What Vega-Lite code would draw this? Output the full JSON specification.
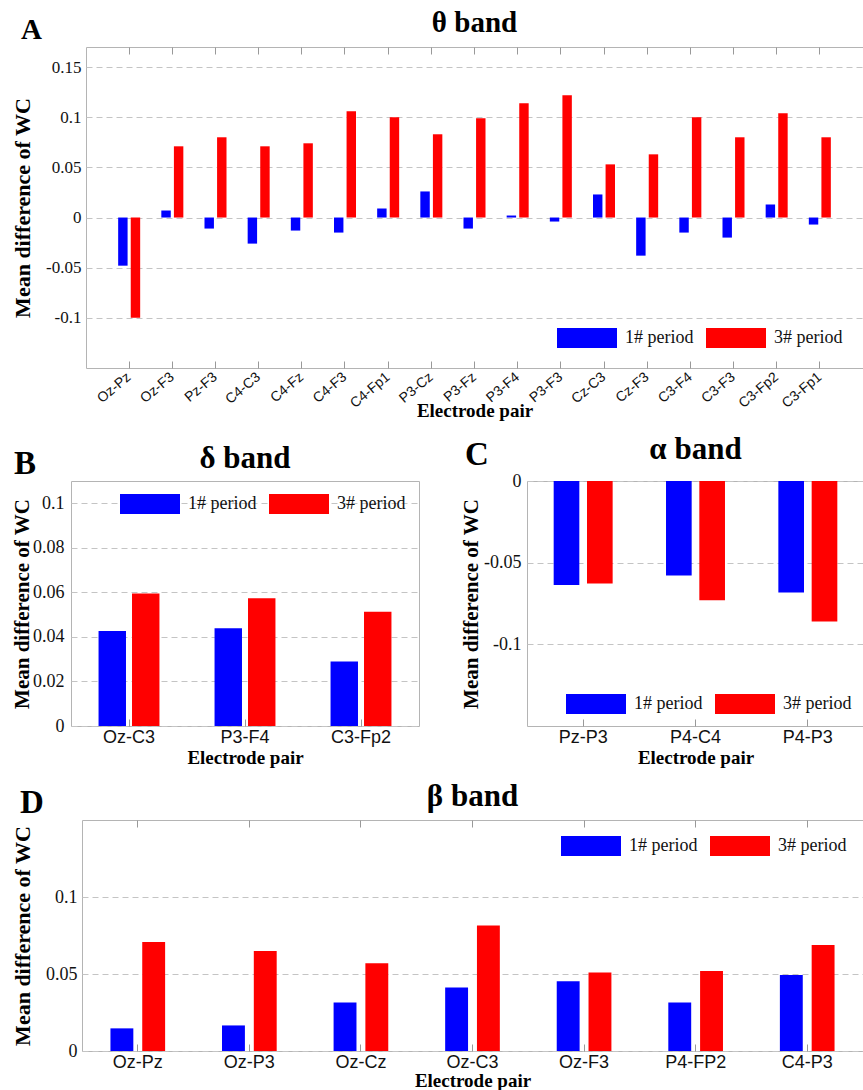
{
  "$schema": "https://vega.github.io/schema/vega-lite/v6.json",
  "background": "white",
  "padding": {"left": 4, "top": 8, "right": 0, "bottom": 0},
  "datasets": {
    "theta": [
      {"pair": "Oz-Pz", "period": "1# period", "value": -0.048}, {"pair": "Oz-Pz", "period": "3# period", "value": -0.100},
      {"pair": "Oz-F3", "period": "1# period", "value": 0.007}, {"pair": "Oz-F3", "period": "3# period", "value": 0.071},
      {"pair": "Pz-F3", "period": "1# period", "value": -0.011}, {"pair": "Pz-F3", "period": "3# period", "value": 0.080},
      {"pair": "C4-C3", "period": "1# period", "value": -0.026}, {"pair": "C4-C3", "period": "3# period", "value": 0.071},
      {"pair": "C4-Fz", "period": "1# period", "value": -0.013}, {"pair": "C4-Fz", "period": "3# period", "value": 0.074},
      {"pair": "C4-F3", "period": "1# period", "value": -0.015}, {"pair": "C4-F3", "period": "3# period", "value": 0.106},
      {"pair": "C4-Fp1", "period": "1# period", "value": 0.009}, {"pair": "C4-Fp1", "period": "3# period", "value": 0.100},
      {"pair": "P3-Cz", "period": "1# period", "value": 0.026}, {"pair": "P3-Cz", "period": "3# period", "value": 0.083},
      {"pair": "P3-Fz", "period": "1# period", "value": -0.011}, {"pair": "P3-Fz", "period": "3# period", "value": 0.099},
      {"pair": "P3-F4", "period": "1# period", "value": 0.002}, {"pair": "P3-F4", "period": "3# period", "value": 0.114},
      {"pair": "P3-F3", "period": "1# period", "value": -0.004}, {"pair": "P3-F3", "period": "3# period", "value": 0.122},
      {"pair": "Cz-C3", "period": "1# period", "value": 0.023}, {"pair": "Cz-C3", "period": "3# period", "value": 0.053},
      {"pair": "Cz-F3", "period": "1# period", "value": -0.038}, {"pair": "Cz-F3", "period": "3# period", "value": 0.063},
      {"pair": "C3-F4", "period": "1# period", "value": -0.015}, {"pair": "C3-F4", "period": "3# period", "value": 0.100},
      {"pair": "C3-F3", "period": "1# period", "value": -0.020}, {"pair": "C3-F3", "period": "3# period", "value": 0.080},
      {"pair": "C3-Fp2", "period": "1# period", "value": 0.013}, {"pair": "C3-Fp2", "period": "3# period", "value": 0.104},
      {"pair": "C3-Fp1", "period": "1# period", "value": -0.007}, {"pair": "C3-Fp1", "period": "3# period", "value": 0.080}
    ],
    "delta": [
      {"pair": "Oz-C3", "period": "1# period", "value": 0.0427}, {"pair": "Oz-C3", "period": "3# period", "value": 0.0595},
      {"pair": "P3-F4", "period": "1# period", "value": 0.0439}, {"pair": "P3-F4", "period": "3# period", "value": 0.0574},
      {"pair": "C3-Fp2", "period": "1# period", "value": 0.0290}, {"pair": "C3-Fp2", "period": "3# period", "value": 0.0513}
    ],
    "alpha": [
      {"pair": "Pz-P3", "period": "1# period", "value": -0.0636}, {"pair": "Pz-P3", "period": "3# period", "value": -0.0628},
      {"pair": "P4-C4", "period": "1# period", "value": -0.0579}, {"pair": "P4-C4", "period": "3# period", "value": -0.0730},
      {"pair": "P4-P3", "period": "1# period", "value": -0.0683}, {"pair": "P4-P3", "period": "3# period", "value": -0.0860}
    ],
    "beta": [
      {"pair": "Oz-Pz", "period": "1# period", "value": 0.0147}, {"pair": "Oz-Pz", "period": "3# period", "value": 0.0707},
      {"pair": "Oz-P3", "period": "1# period", "value": 0.0166}, {"pair": "Oz-P3", "period": "3# period", "value": 0.0649},
      {"pair": "Oz-Cz", "period": "1# period", "value": 0.0315}, {"pair": "Oz-Cz", "period": "3# period", "value": 0.0569},
      {"pair": "Oz-C3", "period": "1# period", "value": 0.0412}, {"pair": "Oz-C3", "period": "3# period", "value": 0.0815},
      {"pair": "Oz-F3", "period": "1# period", "value": 0.0453}, {"pair": "Oz-F3", "period": "3# period", "value": 0.0509},
      {"pair": "P4-FP2", "period": "1# period", "value": 0.0315}, {"pair": "P4-FP2", "period": "3# period", "value": 0.0520},
      {"pair": "C4-P3", "period": "1# period", "value": 0.0494}, {"pair": "C4-P3", "period": "3# period", "value": 0.0688}
    ],
    "blank": [{"k": 0}]
  },
  "config": {
    "font": "Liberation Serif",
    "view": {"stroke": "#b4b4b4", "strokeWidth": 1},
    "axis": {"domain": false, "labelColor": "#111", "titleColor": "#000", "titleFont": "Liberation Serif", "titleFontWeight": "bold", "titleFontSize": 19, "gridColor": "#c4c4c4", "gridDash": [6, 4], "tickColor": "#999999"},
    "axisY": {"ticks": false, "labelFont": "Liberation Serif", "labelFontSize": 18, "labelPadding": 6, "titleFontSize": 21},
    "axisX": {"grid": false, "labelFont": "Liberation Sans", "labelFontSize": 18, "labelAngle": 0, "tickSize": -7, "labelPadding": 10, "titlePadding": 2},
    "title": {"font": "Liberation Serif", "fontWeight": "bold", "color": "#000", "baseline": "alphabetic"},
    "legend": {"direction": "horizontal", "title": null, "symbolType": "M-1,-1H5V1H-1Z", "symbolSize": 400, "symbolStrokeWidth": 0, "symbolOpacity": 1, "labelFont": "Liberation Serif", "labelFontSize": 18, "labelColor": "#111", "labelOffset": 48, "columnPadding": 12, "padding": 0}
  },
  "columns": 1,
  "spacing": 12,
  "resolve": {"scale": {"color": "independent", "xOffset": "independent"}, "legend": {"color": "independent"}},
  "concat": [
    {
      "columns": 2,
      "align": "each",
      "spacing": 0,
      "resolve": {"scale": {"color": "independent", "xOffset": "independent"}, "legend": {"color": "independent"}},
      "concat": [
        {"data": {"name": "blank"}, "width": 1, "height": 1, "view": {"stroke": null}, "mark": {"type": "point", "opacity": 0}},
        {
          "title": {"text": "A", "anchor": "start", "frame": "bounds", "orient": "top", "fontSize": 29, "offset": 0, "dx": 10, "dy": 37},
          "resolve": {"scale": {"color": "independent", "xOffset": "independent"}, "legend": {"color": "independent"}},
          "vconcat": [
            {
              "data": {"name": "theta"},
              "width": 777,
              "height": 321,
              "title": {"text": "θ band", "fontSize": 29, "offset": 9, "anchor": "middle"},
              "resolve": {"axis": {"x": "independent"}},
              "layer": [
                {
                  "mark": {"type": "bar"},
                  "encoding": {
                    "x": {"field": "pair", "type": "nominal", "sort": null, "title": "Electrode pair",
                      "scale": {"paddingInner": 0.49, "paddingOuter": 0.745},
                      "axis": {"labelAngle": -40, "labelFontSize": 14, "labelAlign": "right", "labelBaseline": "middle", "labelPadding": 14, "titlePadding": -9}},
                    "xOffset": {"field": "period", "type": "nominal", "scale": {"paddingInner": 0.25}},
                    "y": {"field": "value", "type": "quantitative", "title": "Mean difference of WC",
                      "scale": {"domain": [-0.15, 0.17], "nice": false, "zero": false},
                      "axis": {"values": [-0.1, -0.05, 0, 0.05, 0.1, 0.15], "labelExpr": "datum.value + ''", "labelFontSize": 17, "labelPadding": 5, "titleFontSize": 22, "titlePadding": 11}},
                    "color": {"field": "period", "type": "nominal",
                      "scale": {"domain": ["1# period", "3# period"], "range": ["#0000ff", "#ff0000"]},
                      "legend": {"orient": "bottom-right", "offset": 20, "labelFont": "Liberation Serif"}}
                  }
                },
                {
                  "mark": {"type": "bar", "opacity": 0},
                  "encoding": {
                    "x": {"field": "pair", "type": "nominal", "sort": null,
                      "axis": {"orient": "top", "labels": false, "title": null, "tickSize": -7, "domain": false, "grid": false, "minExtent": 0, "maxExtent": 0}}
                  }
                }
              ]
            }
          ]
        }
      ]
    },
    {
      "columns": 1,
      "spacing": 12,
      "resolve": {"scale": {"color": "independent", "xOffset": "independent"}, "legend": {"color": "independent"}},
      "concat": [
        {
          "columns": 2,
          "align": "each",
          "spacing": 0,
          "resolve": {"scale": {"color": "independent", "xOffset": "independent"}, "legend": {"color": "independent"}},
          "concat": [
            {"data": {"name": "blank"}, "width": 1, "height": 1, "view": {"stroke": null}, "mark": {"type": "point", "opacity": 0}},
            {
              "spacing": 40,
              "resolve": {"scale": {"color": "independent", "xOffset": "independent"}, "legend": {"color": "independent"}},
              "hconcat": [
                {
                  "title": {"text": "B", "anchor": "start", "frame": "bounds", "orient": "top", "fontSize": 33, "offset": 0, "dx": 3, "dy": 38},
                  "resolve": {"scale": {"color": "independent", "xOffset": "independent"}, "legend": {"color": "independent"}},
                  "vconcat": [
                    {
                      "data": {"name": "delta"},
                      "width": 348,
                      "height": 245,
                      "title": {"text": "δ band", "fontSize": 31, "offset": 6, "anchor": "middle"},
                      "mark": {"type": "bar"},
                      "encoding": {
                        "x": {"field": "pair", "type": "nominal", "sort": null, "title": "Electrode pair",
                          "scale": {"paddingInner": 0.475, "paddingOuter": 0.2375},
                          "axis": {"labelPadding": 9}},
                        "xOffset": {"field": "period", "type": "nominal", "scale": {"paddingInner": 0.18}},
                        "y": {"field": "value", "type": "quantitative", "title": "Mean difference of WC",
                          "scale": {"domain": [0, 0.11], "nice": false},
                          "axis": {"values": [0, 0.02, 0.04, 0.06, 0.08, 0.1], "labelExpr": "datum.value + ''", "labelPadding": 7, "titlePadding": 0}},
                        "color": {"field": "period", "type": "nominal",
                          "scale": {"domain": ["1# period", "3# period"], "range": ["#0000ff", "#ff0000"]},
                          "legend": {"orient": "top-right", "offset": 13, "labelFont": "Liberation Serif"}}
                      }
                    }
                  ]
                },
                {
                  "title": {"text": "C", "anchor": "start", "frame": "bounds", "orient": "top", "fontSize": 33, "offset": 0, "dx": 5, "dy": 38},
                  "resolve": {"scale": {"color": "independent", "xOffset": "independent"}, "legend": {"color": "independent"}},
                  "vconcat": [
                    {
                      "data": {"name": "alpha"},
                      "width": 337,
                      "height": 245,
                      "title": {"text": "α band", "fontSize": 31, "offset": 6, "anchor": "middle"},
                      "mark": {"type": "bar"},
                      "encoding": {
                        "x": {"field": "pair", "type": "nominal", "sort": null, "title": "Electrode pair",
                          "scale": {"paddingInner": 0.475, "paddingOuter": 0.2375},
                          "axis": {"labelPadding": 9}},
                        "xOffset": {"field": "period", "type": "nominal", "scale": {"paddingInner": 0.23}},
                        "y": {"field": "value", "type": "quantitative", "title": "Mean difference of WC",
                          "scale": {"domain": [-0.15, 0], "nice": false, "zero": false},
                          "axis": {"values": [-0.1, -0.05, 0], "labelExpr": "datum.value + ''", "labelPadding": 6, "titlePadding": 2}},
                        "color": {"field": "period", "type": "nominal",
                          "scale": {"domain": ["1# period", "3# period"], "range": ["#0000ff", "#ff0000"]},
                          "legend": {"orient": "bottom-right", "offset": 12, "labelFont": "Liberation Serif"}}
                      }
                    }
                  ]
                }
              ]
            }
          ]
        },
        {
          "columns": 2,
          "align": "each",
          "spacing": 0,
          "resolve": {"scale": {"color": "independent", "xOffset": "independent"}, "legend": {"color": "independent"}},
          "concat": [
            {"data": {"name": "blank"}, "width": 1, "height": 1, "view": {"stroke": null}, "mark": {"type": "point", "opacity": 0}},
            {
              "title": {"text": "D", "anchor": "start", "frame": "bounds", "orient": "top", "fontSize": 33, "offset": 0, "dx": 9, "dy": 40},
              "resolve": {"scale": {"color": "independent", "xOffset": "independent"}, "legend": {"color": "independent"}},
              "vconcat": [
                {
                  "data": {"name": "beta"},
                  "width": 781,
                  "height": 231,
                  "title": {"text": "β band", "fontSize": 31, "offset": 7, "anchor": "middle"},
                  "resolve": {"axis": {"x": "independent"}},
                  "layer": [
                    {
                      "mark": {"type": "bar"},
                      "encoding": {
                        "x": {"field": "pair", "type": "nominal", "sort": null, "title": "Electrode pair",
                          "scale": {"paddingInner": 0.51, "paddingOuter": 0.255},
                          "axis": {"labelPadding": 9, "titlePadding": 0}},
                        "xOffset": {"field": "period", "type": "nominal", "scale": {"paddingInner": 0.28}},
                        "y": {"field": "value", "type": "quantitative", "title": "Mean difference of WC",
                          "scale": {"domain": [0, 0.15], "nice": false},
                          "axis": {"values": [0, 0.05, 0.1], "labelExpr": "datum.value + ''", "labelPadding": 5, "titleFontSize": 22, "titlePadding": 11}},
                        "color": {"field": "period", "type": "nominal",
                          "scale": {"domain": ["1# period", "3# period"], "range": ["#0000ff", "#ff0000"]},
                          "legend": {"orient": "top-right", "offset": 16, "labelFont": "Liberation Serif"}}
                      }
                    },
                    {
                      "mark": {"type": "bar", "opacity": 0},
                      "encoding": {
                        "x": {"field": "pair", "type": "nominal", "sort": null,
                          "axis": {"orient": "top", "labels": false, "title": null, "tickSize": -7, "domain": false, "grid": false, "minExtent": 0, "maxExtent": 0}}
                      }
                    }
                  ]
                }
              ]
            }
          ]
        }
      ]
    }
  ]
}
